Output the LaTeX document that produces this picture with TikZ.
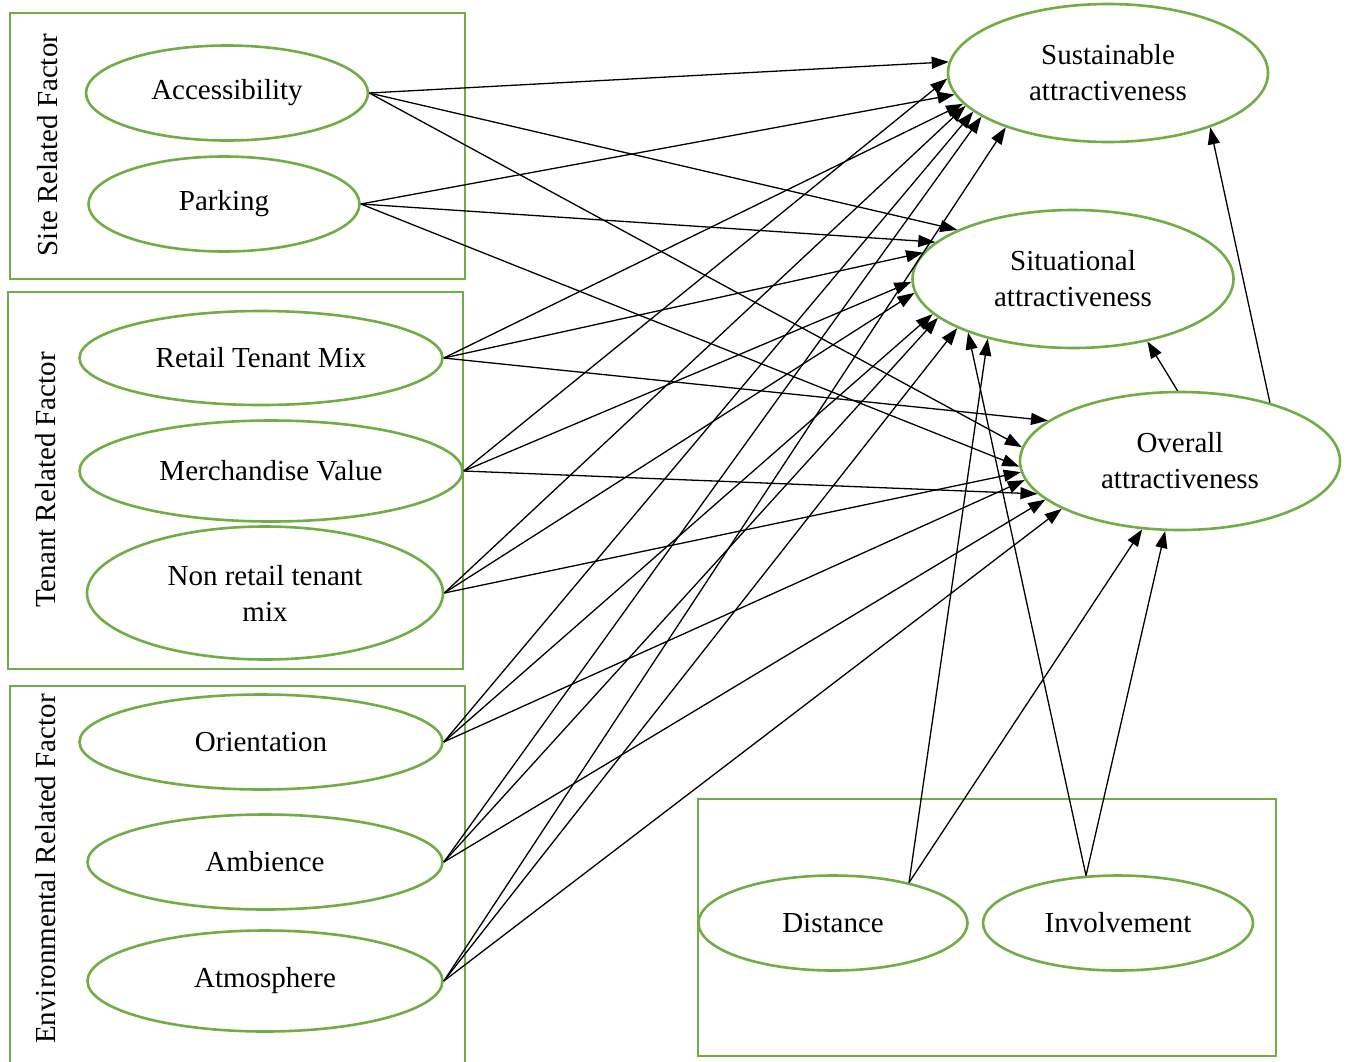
\documentclass[tikz,border=0pt]{standalone}
\usepackage{fontspec}
\setmainfont{Liberation Serif}
\usetikzlibrary{shapes.geometric,arrows.meta}
\definecolor{grn}{RGB}{112,173,71}
\begin{document}
\begin{tikzpicture}[x=1pt,y=-1pt,
  ell/.style={draw=grn, line width=2.6pt, ellipse, inner sep=0pt, align=center,
              font=\fontsize{29}{36}\selectfont},
  grp/.style={draw=grn, line width=2.6pt},
  lab/.style={rotate=90, inner sep=0pt, font=\fontsize{29}{34}\selectfont},
  arr/.style={line width=1.3pt, -{Triangle[length=17pt,width=12pt]}}
]
\clip (0,0) rectangle (1349,1061);
\fill[white] (0,0) rectangle (1349,1061);

% group boxes
\draw[grp] (10,13) rectangle (465,279);
\draw[grp] (8,292) rectangle (463,669);
\draw[grp] (10,686) rectangle (465,1080);
\draw[grp] (698,799) rectangle (1276,1056);

\node[lab] (l1) at (48,145) {Site Related Factor};
\node[lab] (l2) at (46,480) {Tenant Related Factor};
\node[lab] (l3) at (46,869) {Environmental Related Factor};

% left factors
\node[ell, minimum width=282, minimum height=95] (acc) at (227,93) {Accessibility};
\node[ell, minimum width=271, minimum height=95] (park) at (224,204) {Parking};
\node[ell, minimum width=363, minimum height=94] (ret) at (261,358) {Retail Tenant Mix};
\node[ell, minimum width=383, minimum height=101] (mer) at (271,471) {Merchandise Value};
\node[ell, minimum width=356, minimum height=133] (non) at (265,593) {Non retail tenant\\mix};
\node[ell, minimum width=363, minimum height=95] (ori) at (261,742) {Orientation};
\node[ell, minimum width=355, minimum height=95] (amb) at (265,862) {Ambience};
\node[ell, minimum width=355, minimum height=101] (atm) at (265,981) {Atmosphere};

% outcomes
\node[ell, minimum width=320, minimum height=138] (sus) at (1108,73) {Sustainable\\attractiveness};
\node[ell, minimum width=321, minimum height=138] (sit) at (1073,279) {Situational\\attractiveness};
\node[ell, minimum width=320, minimum height=138] (ovr) at (1180,461) {Overall\\attractiveness};

% moderators
\node[ell, minimum width=269, minimum height=95] (dis) at (833,923) {Distance};
\node[ell, minimum width=270, minimum height=95] (inv) at (1118,923) {Involvement};

% connectors
\draw[arr] (acc.east) -- (sus.176);
\draw[arr] (acc.east) -- (sit.157.5);
\draw[arr] (acc.east) -- (ovr.175.4);
\draw[arr] (park.east) -- (sus.188);
\draw[arr] (park.east) -- (sit.165);
\draw[arr] (park.east) -- (ovr.182);
\draw[arr] (ret.east) -- (sus.192);
\draw[arr] (ret.east) -- (sit.170.4);
\draw[arr] (ret.east) -- (ovr.163);
\draw[arr] (mer.east) -- (sus.182);
\draw[arr] (mer.east) -- (sit.181.4);
\draw[arr] (mer.east) -- (ovr.193);
\draw[arr] (non.east) -- (sus.193.6);
\draw[arr] (non.east) -- (sit.185.8);
\draw[arr] (non.east) -- (ovr.184);
\draw[arr] (ori.east) -- (sus.196);
\draw[arr] (ori.east) -- (sit.194.4);
\draw[arr] (ori.east) -- (ovr.187.5);
\draw[arr] (amb.east) -- (sus.199);
\draw[arr] (amb.east) -- (sit.196.3);
\draw[arr] (amb.east) -- (ovr.196);
\draw[arr] (atm.east) -- (sus.208.6);
\draw[arr] (atm.east) -- (sit.203);
\draw[arr] (atm.east) -- (ovr.202.5);
\draw[arr] (dis.28.8) -- (sit.215);
\draw[arr] (dis.28.8) -- (ovr.241);
\draw[arr] (inv.124) -- (sit.207);
\draw[arr] (inv.124) -- (ovr.258);
\draw[arr] (ovr.92) -- (sit.320);
\draw[arr] (ovr.33) -- (sus.332);
\end{tikzpicture}
\end{document}
